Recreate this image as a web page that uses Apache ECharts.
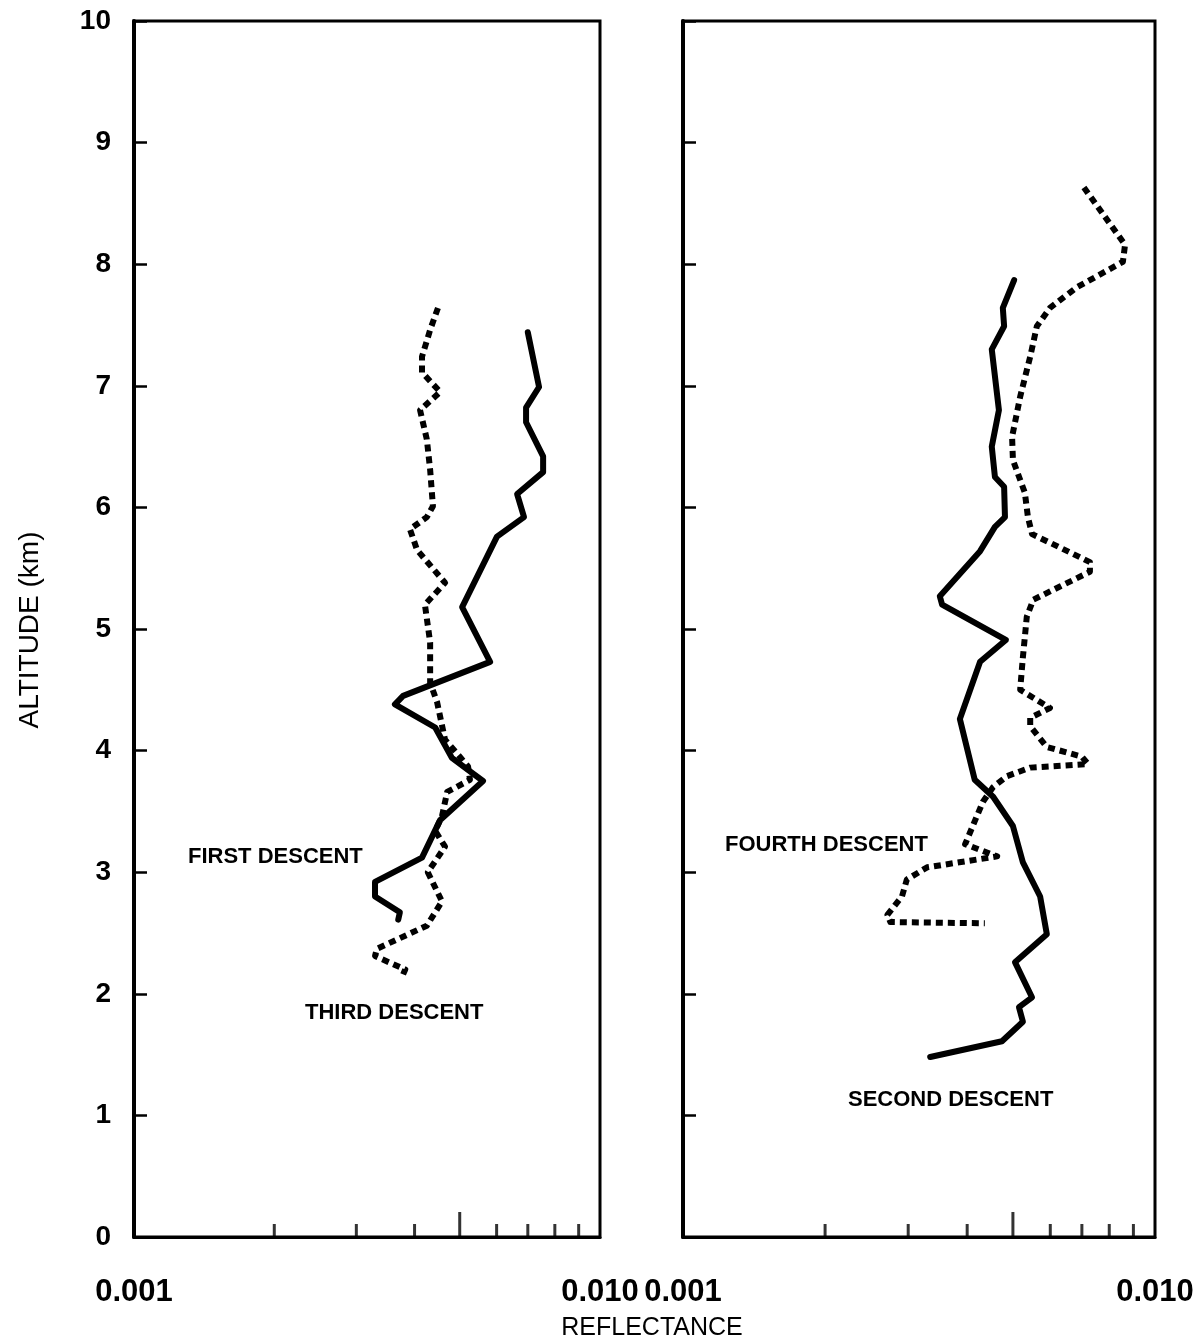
<!DOCTYPE html>
<html>
<head>
<meta charset="utf-8">
<title>Reflectance vs Altitude</title>
<script src="https://cdn.jsdelivr.net/npm/echarts@6/dist/echarts.min.js"></script>
<style>
  html, body { margin: 0; padding: 0; background: #fff; }
  #chart { width: 1198px; height: 1343px; }
</style>
</head>
<body>
<div id="chart"></div>
<script>
// Altitude ticks (km) and reflectance range of both panels
const altitudeTicks = [0, 1, 2, 3, 4, 5, 6, 7, 8, 9, 10];
const reflectanceRange = [0.001, 0.010];
// Intermediate log-decade tick positions along the bottom axis
const minorTickValues = [0.002, 0.003, 0.004, 0.006, 0.007, 0.008, 0.009];
const midTickValues = [0.005];

// First descent (solid, left panel)
const firstReflectance = [0.00700, 0.00740, 0.00694, 0.00694, 0.00755, 0.00755, 0.00664, 0.00687, 0.00601, 0.00506, 0.00581, 0.00378, 0.00363, 0.00443, 0.00481, 0.00561, 0.00454, 0.00415, 0.00329, 0.00329, 0.00372, 0.00369];
const firstAltitude    = [7.44, 6.99, 6.82, 6.70, 6.42, 6.29, 6.11, 5.92, 5.76, 5.18, 4.73, 4.45, 4.38, 4.19, 3.94, 3.75, 3.43, 3.12, 2.92, 2.80, 2.67, 2.61];

// Third descent (dotted, left panel)
const thirdReflectance = [0.00449, 0.00432, 0.00415, 0.00415, 0.00454, 0.00411, 0.00425, 0.00432, 0.00438, 0.00425, 0.00391, 0.00405, 0.00465, 0.00421, 0.00432, 0.00432, 0.00447, 0.00465, 0.00521, 0.00526, 0.00470, 0.00458, 0.00443, 0.00465, 0.00427, 0.00458, 0.00425, 0.00332, 0.00329, 0.00382, 0.00378];
const thirdAltitude    = [7.64, 7.46, 7.24, 7.11, 6.95, 6.80, 6.56, 6.31, 6.01, 5.92, 5.82, 5.65, 5.38, 5.20, 4.89, 4.56, 4.40, 4.09, 3.87, 3.76, 3.66, 3.46, 3.34, 3.21, 3.00, 2.76, 2.56, 2.37, 2.31, 2.20, 2.16];

// Second descent (solid, right panel)
const secondReflectance = [0.00503, 0.00476, 0.00479, 0.00451, 0.00467, 0.00451, 0.00458, 0.00479, 0.00481, 0.00458, 0.00426, 0.00350, 0.00354, 0.00483, 0.00426, 0.00386, 0.00415, 0.00454, 0.00500, 0.00525, 0.00571, 0.00590, 0.00505, 0.00549, 0.00515, 0.00525, 0.00474, 0.00334];
const secondAltitude    = [7.87, 7.64, 7.49, 7.30, 6.80, 6.50, 6.25, 6.17, 5.92, 5.84, 5.64, 5.27, 5.20, 4.91, 4.73, 4.26, 3.76, 3.62, 3.38, 3.08, 2.80, 2.49, 2.26, 1.97, 1.89, 1.77, 1.61, 1.48];

// Fourth descent (dotted, right panel)
const fourthReflectance = [0.00707, 0.00864, 0.00855, 0.00683, 0.00599, 0.00562, 0.00544, 0.00518, 0.00498, 0.00500, 0.00530, 0.00538, 0.00549, 0.00629, 0.00728, 0.00728, 0.00629, 0.00552, 0.00535, 0.00525, 0.00518, 0.00599, 0.00544, 0.00544, 0.00590, 0.00700, 0.00721, 0.00544, 0.00486, 0.00454, 0.00432, 0.00396, 0.00463, 0.00329, 0.00298, 0.00291, 0.00271, 0.00275, 0.00436];
const fourthAltitude    = [8.63, 8.16, 8.02, 7.81, 7.64, 7.49, 7.24, 6.91, 6.58, 6.39, 6.12, 5.92, 5.78, 5.67, 5.55, 5.47, 5.35, 5.24, 5.10, 4.77, 4.50, 4.35, 4.27, 4.20, 4.03, 3.95, 3.89, 3.86, 3.79, 3.70, 3.58, 3.23, 3.13, 3.04, 2.94, 2.80, 2.65, 2.59, 2.58];

const pair = (xs, ys) => xs.map((x, i) => [x, ys[i]]);

const INK = '#000';
const NARROW = "'Liberation Sans Narrow', 'Liberation Sans', Arial, sans-serif";
const SANS = "'Liberation Sans', Arial, sans-serif";

const gridBox = (left, width) => ({
  left: left, top: 21, width: width, height: 1216,
  show: true, borderColor: INK, borderWidth: 3, backgroundColor: 'transparent'
});

const xAxisFor = (gridIndex) => ({
  gridIndex: gridIndex,
  type: 'log',
  logBase: 10,
  min: reflectanceRange[0],
  max: reflectanceRange[1],
  axisLine: { show: true, lineStyle: { color: INK, width: 3 } },
  axisTick: { show: false },
  splitLine: { show: false },
  minorTick: { show: false },
  axisLabel: {
    show: true,
    showMinLabel: true,
    showMaxLabel: true,
    formatter: (v) => Number(v).toFixed(3),
    color: INK,
    fontFamily: NARROW,
    fontWeight: 'bold',
    fontSize: 31,
    margin: 40
  }
});

const yAxisFor = (gridIndex, showLabels) => ({
  gridIndex: gridIndex,
  type: 'value',
  min: altitudeTicks[0],
  max: altitudeTicks[altitudeTicks.length - 1],
  interval: 1,
  axisLine: { show: true, lineStyle: { color: INK, width: 4 } },
  axisTick: { show: true, inside: true, length: 13, lineStyle: { color: INK, width: 2.5 } },
  splitLine: { show: false },
  axisLabel: {
    show: showLabels,
    color: INK,
    fontFamily: NARROW,
    fontWeight: 'bold',
    fontSize: 28,
    margin: 23
  }
});

const solid = (name, axis, data) => ({
  name: name, type: 'line', xAxisIndex: axis, yAxisIndex: axis,
  data: data, showSymbol: false, symbol: 'none', smooth: false,
  lineStyle: { color: INK, width: 6, join: 'round', cap: 'round' },
  z: 3
});

const dotted = (name, axis, data) => ({
  name: name, type: 'line', xAxisIndex: axis, yAxisIndex: axis,
  data: data, showSymbol: false, symbol: 'none', smooth: false,
  lineStyle: { color: INK, width: 6, type: [7, 5], cap: 'butt', join: 'round' },
  z: 3
});

// Short tick marks standing on the bottom axis at the given reflectances
const tickMarks = (axis, values, len) => ({
  type: 'scatter', xAxisIndex: axis, yAxisIndex: axis,
  data: values.map((v) => [v, 0]),
  symbol: 'rect', symbolSize: [3, len], symbolOffset: [0, -len / 2],
  itemStyle: { color: INK }, silent: true, clip: false, z: 4
});

const textStyle = (fontSize, weight) => ({ fill: INK, fontFamily: SANS, fontSize: fontSize, fontWeight: weight });

const option = {
  animation: false,
  backgroundColor: '#fff',
  grid: [gridBox(134, 466), gridBox(683, 472)],
  xAxis: [xAxisFor(0), xAxisFor(1)],
  yAxis: [yAxisFor(0, true), yAxisFor(1, false)],
  series: [
    solid('First descent', 0, pair(firstReflectance, firstAltitude)),
    dotted('Third descent', 0, pair(thirdReflectance, thirdAltitude)),
    solid('Second descent', 1, pair(secondReflectance, secondAltitude)),
    dotted('Fourth descent', 1, pair(fourthReflectance, fourthAltitude)),
    tickMarks(0, minorTickValues, 13),
    tickMarks(0, midTickValues, 25),
    tickMarks(1, minorTickValues, 13),
    tickMarks(1, midTickValues, 25)
  ],
  graphic: [
    { type: 'text', left: 188, top: 846, style: Object.assign({ text: 'FIRST DESCENT' }, textStyle(22, 'bold')) },
    { type: 'text', left: 305, top: 1002, style: Object.assign({ text: 'THIRD DESCENT' }, textStyle(22, 'bold')) },
    { type: 'text', left: 725, top: 834, style: Object.assign({ text: 'FOURTH DESCENT' }, textStyle(22, 'bold')) },
    { type: 'text', left: 848, top: 1089, style: Object.assign({ text: 'SECOND DESCENT' }, textStyle(22, 'bold')) },
    { type: 'text', x: 652, y: 1328, style: Object.assign({ text: 'REFLECTANCE', align: 'center', verticalAlign: 'middle' }, textStyle(25, 'normal')) },
    { type: 'text', x: 30, y: 630, rotation: Math.PI / 2, style: Object.assign({ text: 'ALTITUDE (km)', align: 'center', verticalAlign: 'middle' }, textStyle(28, 'normal')) }
  ]
};

const chart = echarts.init(document.getElementById('chart'), null, { renderer: 'canvas' });
chart.setOption(option);
</script>
</body>
</html>
